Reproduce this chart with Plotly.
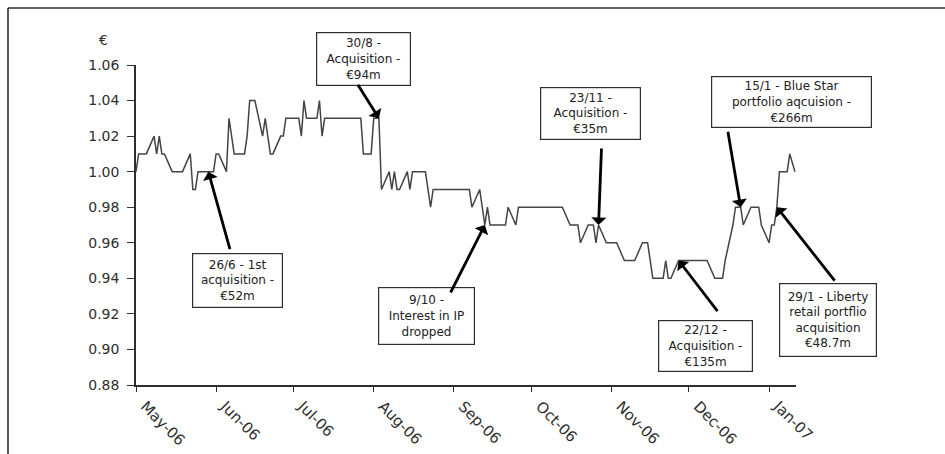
import pandas as pd
import plotly.graph_objects as go

# Daily closing share price (EUR), one list per month of trading days
may_06 = [1.00, 1.01, 1.01, 1.01, 1.01, 1.02, 1.01, 1.02, 1.01, 1.01, 1.00, 1.00,
          1.00, 1.00, 1.00, 1.01, 0.99, 0.99, 1.00, 1.00, 1.00, 1.00, 1.00]
jun_06 = [1.01, 1.01, 1.00, 1.03, 1.02, 1.01, 1.01, 1.01, 1.02, 1.04, 1.04, 1.04,
          1.02, 1.03, 1.02, 1.01, 1.01, 1.02, 1.02, 1.03, 1.03, 1.03]
jul_06 = [1.03, 1.02, 1.04, 1.03, 1.03, 1.03, 1.04, 1.02, 1.03, 1.03, 1.03, 1.03,
          1.03, 1.03, 1.03, 1.03, 1.03, 1.03, 1.03, 1.01, 1.01]
aug_06 = [1.03, 1.03, 1.03, 0.99, 1.00, 0.99, 1.00, 0.99, 0.99, 1.00, 0.99, 1.00,
          1.00, 1.00, 1.00, 0.99, 0.98, 0.99, 0.99, 0.99, 0.99, 0.99, 0.99]
sep_06 = [0.99, 0.99, 0.99, 0.99, 0.99, 0.98, 0.99, 0.98, 0.97, 0.98, 0.97, 0.97,
          0.97, 0.97, 0.97, 0.98, 0.97, 0.98, 0.98, 0.98, 0.98]
oct_06 = [0.98, 0.98, 0.98, 0.98, 0.98, 0.98, 0.98, 0.98, 0.98, 0.98, 0.97, 0.97,
          0.97, 0.97, 0.96, 0.97, 0.97, 0.97, 0.96, 0.97, 0.96, 0.96]
nov_06 = [0.96, 0.96, 0.96, 0.95, 0.95, 0.95, 0.95, 0.95, 0.96, 0.96, 0.96, 0.95,
          0.94, 0.94, 0.94, 0.95, 0.94, 0.94, 0.95, 0.95, 0.95, 0.95]
dec_06 = [0.95, 0.95, 0.95, 0.95, 0.95, 0.95, 0.94, 0.94, 0.94, 0.94, 0.95, 0.97,
          0.98, 0.98, 0.98, 0.97, 0.98, 0.98, 0.98, 0.98, 0.97]
jan_07 = [0.96, 0.97, 0.97, 0.98, 1.00, 1.00, 1.01, 1.005, 1.00]

month_starts = ["2006-05-01", "2006-06-01", "2006-07-01", "2006-08-01", "2006-09-01",
                "2006-10-01", "2006-11-01", "2006-12-01", "2007-01-01"]
monthly_prices = [may_06, jun_06, jul_06, aug_06, sep_06, oct_06, nov_06, dec_06, jan_07]

# Event labels and the trading day each arrow points at
event_text = [
    "26/6 - 1st<br>acquisition -<br>€52m",
    "30/8 -<br>Acquisition -<br>€94m",
    "9/10 -<br>Interest in IP<br>dropped",
    "23/11 -<br>Acquisition -<br>€35m",
    "22/12 -<br>Acquisition -<br>€135m",
    "15/1 - Blue Star<br>portfolio aqcuision -<br>€266m",
    "29/1 - Liberty<br>retail portflio<br>acquisition<br>€48.7m",
]
event_day = ["2006-05-29", "2006-08-03", "2006-09-13", "2006-10-27",
             "2006-11-27", "2006-12-21", "2007-01-04"]

# ---- build the daily series (trading days of each month) ----
dates, prices = [], []
for start, vals in zip(month_starts, monthly_prices):
    days = pd.bdate_range(start, periods=len(vals))
    dates.extend(days)
    prices.extend(vals)
series = pd.Series(prices, index=pd.DatetimeIndex(dates))

# plot-area geometry in pixels
L, R, T, B = 136, 796, 65, 385
W, H = R - L, B - T


def px_x(px):
    return (px - L) / W


def px_y(py):
    return (B - py) / H


INK = "#2e2e2e"
FONT = "DejaVu Sans"

fig = go.Figure()
fig.add_trace(go.Scatter(
    x=series.index, y=series.values, mode="lines",
    line=dict(color="#444444", width=1.5),
    hoverinfo="skip", showlegend=False,
))

# text boxes: left, top, right, bottom (px)
boxes = [
    (192, 253, 283, 308),
    (316, 32, 411, 86),
    (378, 287, 475, 345),
    (540, 87, 641, 140),
    (658, 320, 753, 372),
    (711, 76, 872, 128),
    (779, 283, 877, 357),
]
# arrow tail offset from its head (px)
tails = [(22, 79), (-22, -35), (-35, 69), (3, -78), (40, 52), (-13, -77), (59, 75)]

bw, bp = 1.2, 1
annotations = []
for text, (x0, y0, x1, y1) in zip(event_text, boxes):
    annotations.append(dict(
        xref="paper", yref="paper", x=px_x(x0), y=px_y(y0),
        xanchor="left", yanchor="top", showarrow=False,
        text=text, align="center", valign="middle",
        width=(x1 - x0) - 2 * (bw + bp), height=(y1 - y0) - 2 * (bw + bp),
        bordercolor=INK, borderwidth=bw, borderpad=bp, bgcolor="white",
        font=dict(family=FONT, size=12, color="#222222"),
    ))
for day, (ax, ay) in zip(event_day, tails):
    annotations.append(dict(
        x=pd.Timestamp(day), y=float(series[pd.Timestamp(day)]),
        xref="x", yref="y", ax=ax, ay=ay, text="",
        showarrow=True, arrowhead=1, arrowsize=0.9, arrowwidth=2.8,
        arrowcolor="black",
    ))
annotations.append(dict(
    xref="paper", yref="paper", x=px_x(103), y=px_y(40),
    xanchor="center", yanchor="middle", showarrow=False, text="€",
    font=dict(family=FONT, size=14, color=INK),
))

# outer frame: top and left edges
shapes = [
    dict(type="line", xref="paper", yref="paper",
         x0=px_x(8), y0=px_y(8), x1=px_x(950), y1=px_y(8),
         line=dict(color=INK, width=1.6)),
    dict(type="line", xref="paper", yref="paper",
         x0=px_x(8), y0=px_y(8), x1=px_x(8), y1=px_y(460),
         line=dict(color=INK, width=1.6)),
]

fig.update_layout(
    width=945, height=454,
    margin=dict(l=L, r=945 - R, t=T, b=454 - B, pad=0, autoexpand=False),
    paper_bgcolor="white", plot_bgcolor="white",
    annotations=annotations, shapes=shapes,
    font=dict(family=FONT, color=INK),
    xaxis=dict(
        type="date", range=["2006-05-01", "2007-01-11 10:00"],
        tick0="2006-05-01", dtick="M1", tickformat="%b-%y", tickangle=45,
        ticks="outside", ticklen=5, tickwidth=1.2, tickcolor=INK,
        showline=True, linecolor=INK, linewidth=1.5,
        showgrid=False, zeroline=False, automargin=False,
        ticklabelshift=9, ticklabelstandoff=0,
        tickfont=dict(family=FONT, size=15, color=INK),
    ),
    yaxis=dict(
        range=[0.88, 1.06], tick0=0.88, dtick=0.02, tickformat=".2f",
        ticks="outside", ticklen=7, tickwidth=1.2, tickcolor=INK,
        showline=True, linecolor=INK, linewidth=1.5,
        showgrid=False, zeroline=False, automargin=False, ticklabelstandoff=5,
        tickfont=dict(family=FONT, size=14, color=INK),
    ),
)

fig.write_html("out.html")
